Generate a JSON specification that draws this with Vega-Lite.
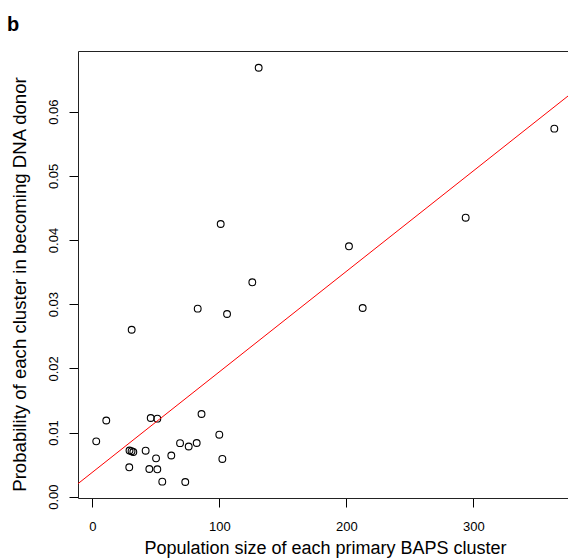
{
  "$schema": "https://vega.github.io/schema/vega-lite/v6.json",
  "width": 490,
  "height": 447,
  "autosize": "none",
  "padding": {"left": 78, "top": 51, "right": 0, "bottom": 62},
  "background": "white",
  "config": {
    "view": {"stroke": null},
    "font": "Liberation Sans",
    "axis": {
      "grid": false,
      "domainColor": "#222",
      "domainWidth": 1,
      "tickColor": "black",
      "tickWidth": 1,
      "tickSize": 9,
      "labelColor": "black",
      "labelFont": "Liberation Sans",
      "labelFontSize": 13,
      "titleColor": "black",
      "titleFont": "Liberation Sans",
      "titleFontSize": 18,
      "titleFontWeight": "normal"
    }
  },
  "title": {
    "text": "b",
    "anchor": "start",
    "frame": "group",
    "font": "Liberation Sans",
    "fontSize": 20,
    "fontWeight": "bold",
    "color": "black",
    "dx": -71,
    "dy": 23,
    "offset": 23,
    "baseline": "alphabetic"
  },
  "datasets": {
    "points": [
      {"size": 3.1, "prob": 0.00863},
      {"size": 11.0, "prob": 0.01187},
      {"size": 46.0, "prob": 0.01226},
      {"size": 51.2, "prob": 0.01216},
      {"size": 86.0, "prob": 0.01289},
      {"size": 100.0, "prob": 0.00966},
      {"size": 102.4, "prob": 0.00588},
      {"size": 29.3, "prob": 0.0072},
      {"size": 30.9, "prob": 0.00709},
      {"size": 32.3, "prob": 0.00697},
      {"size": 42.0, "prob": 0.00717},
      {"size": 29.1, "prob": 0.00458},
      {"size": 50.2, "prob": 0.00598},
      {"size": 44.9, "prob": 0.00432},
      {"size": 51.2, "prob": 0.00427},
      {"size": 55.1, "prob": 0.00234},
      {"size": 62.2, "prob": 0.00642},
      {"size": 69.1, "prob": 0.00834},
      {"size": 75.9, "prob": 0.00782},
      {"size": 82.2, "prob": 0.00837},
      {"size": 73.2, "prob": 0.00229},
      {"size": 31.0, "prob": 0.02602},
      {"size": 83.0, "prob": 0.0293},
      {"size": 106.1, "prob": 0.02847},
      {"size": 126.0, "prob": 0.03341},
      {"size": 101.1, "prob": 0.0425},
      {"size": 131.0, "prob": 0.06685},
      {"size": 363.8, "prob": 0.05735},
      {"size": 294.0, "prob": 0.04348},
      {"size": 202.1, "prob": 0.03902},
      {"size": 212.9, "prob": 0.02941}
    ],
    "fit": [
      {"size": -11.26, "prob": 0.00203},
      {"size": 374.57, "prob": 0.06244}
    ]
  },
  "layer": [
    {
      "data": {"name": "points"},
      "mark": {"type": "point", "shape": "circle", "filled": false, "stroke": "black", "strokeWidth": 1.1, "size": 46, "opacity": 1},
      "encoding": {
        "x": {
          "field": "size",
          "type": "quantitative",
          "scale": {"domain": [-11.26, 374.57], "nice": false, "zero": false},
          "axis": {
            "orient": "bottom",
            "values": [0, 100, 200, 300],
            "format": "d",
            "labelPadding": 23.5,
            "labelBaseline": "alphabetic",
            "labelAlign": "center",
            "labelFlush": false,
            "labelOverlap": false,
            "title": "Population size of each primary BAPS cluster",
            "titleX": 247,
            "titleY": 55,
            "titleBaseline": "alphabetic",
            "titleAlign": "center",
            "titleAnchor": null
          }
        },
        "y": {
          "field": "prob",
          "type": "quantitative",
          "scale": {"domain": [-0.000203, 0.069456], "nice": false, "zero": false},
          "axis": {
            "values": [0, 0.01, 0.02, 0.03, 0.04, 0.05, 0.06],
            "format": ".2f",
            "labelAngle": 270,
            "labelAlign": "center",
            "labelBaseline": "alphabetic",
            "labelPadding": 11.5,
            "labelFlush": false,
            "labelOverlap": false,
            "title": "Probability of each cluster in becoming DNA donor",
            "titleFontSize": 18.6,
            "titleAngle": 270,
            "titleX": -53,
            "titleY": 233,
            "titleBaseline": "alphabetic",
            "titleAlign": "center"
          }
        }
      }
    },
    {
      "data": {"name": "fit"},
      "mark": {"type": "line", "color": "#ff0000", "strokeWidth": 1, "clip": true},
      "encoding": {
        "x": {
          "field": "size",
          "type": "quantitative",
          "axis": {"orient": "top", "labels": false, "ticks": false, "title": null, "grid": false, "domain": true}
        },
        "y": {"field": "prob", "type": "quantitative"}
      }
    }
  ],
  "resolve": {"axis": {"x": "independent"}}
}
